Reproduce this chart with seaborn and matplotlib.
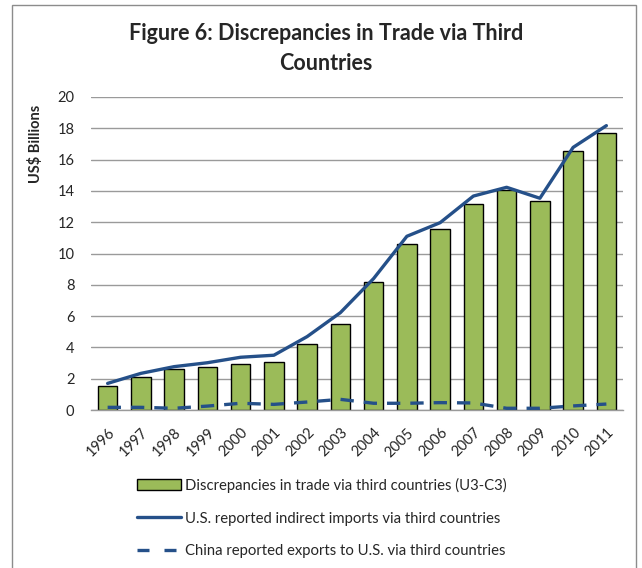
import numpy as np
import pandas as pd
import matplotlib
matplotlib.use("Agg")
import matplotlib.pyplot as plt
import seaborn as sns
from matplotlib.patches import Rectangle, Patch
from matplotlib.lines import Line2D

# ---- data ----
years = ["1996", "1997", "1998", "1999", "2000", "2001", "2002", "2003",
         "2004", "2005", "2006", "2007", "2008", "2009", "2010", "2011"]
discrepancy = [1.53, 2.09, 2.60, 2.77, 2.92, 3.09, 4.20, 5.50,
               8.18, 10.60, 11.54, 13.14, 14.06, 13.38, 16.53, 17.70]
us_indirect = [1.70, 2.34, 2.77, 3.02, 3.37, 3.50, 4.69, 6.22,
               8.40, 11.10, 11.97, 13.67, 14.23, 13.53, 16.78, 18.17]
china_exports = [0.17, 0.17, 0.11, 0.25, 0.43, 0.36, 0.51, 0.68,
                 0.43, 0.43, 0.47, 0.45, 0.11, 0.11, 0.26, 0.38]
yticks = [0, 2, 4, 6, 8, 10, 12, 14, 16, 18, 20]

title = "Figure 6: Discrepancies in Trade via Third\nCountries"
ylabel = "US$ Billions"
labels = ["Discrepancies in trade via third countries (U3-C3)",
          "U.S. reported indirect imports via third countries",
          "China reported exports to U.S. via third countries"]

df = pd.DataFrame({"year": years, "disc": discrepancy,
                   "us": us_indirect, "cn": china_exports})

bar_color = "#9BBB59"
line_color = "#255089"

sns.set_style("white")
plt.rcParams["font.family"] = ["Lato", "DejaVu Sans"]

fig = plt.figure(figsize=(6.42, 5.68), dpi=100)
ax = fig.add_axes([91/642, 1-410/568, (623-91)/642, (410-97)/568])

sns.barplot(data=df, x="year", y="disc", color=bar_color, width=0.58,
            edgecolor="black", linewidth=1.0, saturation=1, ax=ax, zorder=2)
sns.pointplot(data=df, x="year", y="us", color=line_color, marker="",
              linewidth=2.4, errorbar=None, ax=ax, zorder=3)
sns.pointplot(data=df, x="year", y="cn", color=line_color, marker="",
              linewidth=2.4, linestyle=(0, (4, 3)), errorbar=None, ax=ax, zorder=3)

ax.set_xlim(-0.5, len(years) - 0.5)
ax.set_ylim(0, 20)
ax.set_yticks(yticks)
ax.yaxis.grid(True, color="#9a9a9a", linewidth=1.0, zorder=0)
ax.set_axisbelow(True)
for s in ["left", "right", "top"]:
    ax.spines[s].set_visible(False)
ax.spines["bottom"].set_color("#9a9a9a")
ax.spines["bottom"].set_linewidth(1.0)
ax.tick_params(axis="y", length=0, pad=12, labelsize=10.5)
ax.tick_params(axis="x", length=0, pad=4, labelsize=10.5)
plt.setp(ax.get_xticklabels(), rotation=45, ha="right", va="center",
         rotation_mode="anchor")
for lab in ax.get_xticklabels():
    lab.set_transform(lab.get_transform() +
                      matplotlib.transforms.ScaledTranslation(5/100, -15/100, fig.dpi_scale_trans))
ax.set_xlabel("")
ax.set_ylabel(ylabel, fontsize=10.5, fontweight="bold")
ax.yaxis.set_label_coords(-0.09, 0.85)

fig.text(326/642, 1-48.5/568, title, ha="center", va="center",
         fontsize=15.5, fontweight="bold", linespacing=1.5, multialignment="center")

handles = [Patch(facecolor=bar_color, edgecolor="black", linewidth=1.0),
           Line2D([], [], color=line_color, linewidth=2.4),
           Line2D([], [], color=line_color, linewidth=2.4, linestyle=(0, (3.6, 4.5)))]
leg = fig.legend(handles, labels, loc="upper left",
                 bbox_to_anchor=(137/642, 1-478/568), frameon=False,
                 fontsize=10.7, handlelength=2.95, handleheight=0.75,
                 handletextpad=0.3, labelspacing=1.25, borderpad=0, borderaxespad=0)

fig.add_artist(Rectangle((12/642, -0.02), (636-12)/642, 1.02 - 5/568,
                         transform=fig.transFigure, fill=False,
                         edgecolor="#8c8c8c", linewidth=1.0, clip_on=False))

fig.savefig("out.png", dpi=100)
